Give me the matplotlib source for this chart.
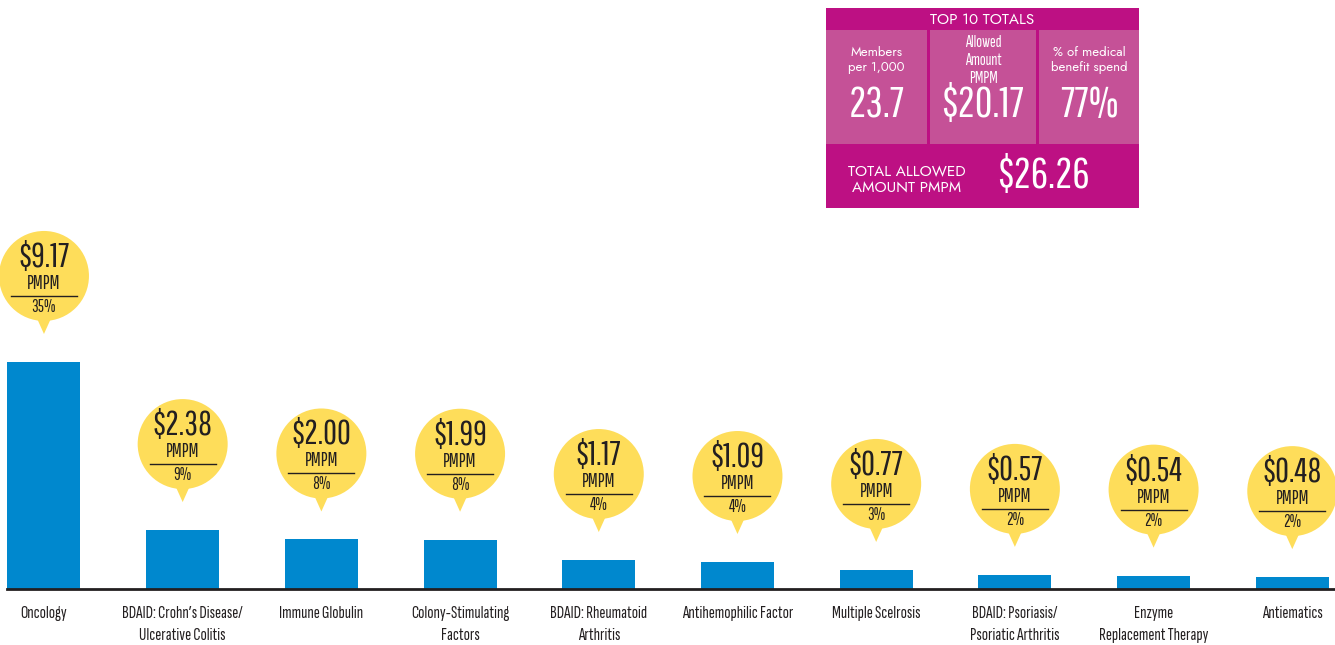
import matplotlib
matplotlib.use("Agg")
import matplotlib.pyplot as plt
from matplotlib.patches import Circle, Polygon, Rectangle
from matplotlib.transforms import ScaledTranslation

# ---------------- data ----------------
categories = ["Oncology", "BDAID: Crohn\u2019s Disease/\nUlcerative Colitis", "Immune Globulin",
              "Colony-Stimulating\nFactors", "BDAID: Rheumatoid\nArthritis", "Antihemophilic Factor",
              "Multiple Scelrosis", "BDAID: Psoriasis/\nPsoriatic Arthritis", "Enzyme\nReplacement Therapy",
              "Antiematics"]
pmpm = [9.17, 2.38, 2.00, 1.99, 1.17, 1.09, 0.77, 0.57, 0.54, 0.48]
share_pct = [35, 9, 8, 8, 4, 4, 3, 2, 2, 2]

box_title = "TOP 10 TOTALS"
box_labels = ["Members\nper 1,000", "Allowed\nAmount\nPMPM", "% of medical\nbenefit spend"]
box_values = ["23.7", "$20.17", "77%"]
total_label = "TOTAL ALLOWED\nAMOUNT PMPM"
total_value = "$26.26"

# ---------------- style ----------------
BLUE = "#0088CE"
YELLOW = "#FEDD5A"
DARK = "#231F20"
MAGENTA = "#BD1083"
PINK = "#C55197"
COND = ["Sofia Sans Extra Condensed", "DejaVu Sans"]
NUM = ["Pathway Gothic One", "Sofia Sans Extra Condensed", "DejaVu Sans"]
GEO = ["Jost", "DejaVu Sans"]

W, H = 1335, 645
fig = plt.figure(figsize=(W / 100, H / 100), dpi=100)

ax = fig.add_axes([0, 56 / H, 1, 589 / H])
n = len(categories)
x = list(range(n))
bar_w = 0.526
ax.bar(x, pmpm, width=bar_w, color=BLUE, zorder=2)
ax.set_xlim(-0.317, 9.308)
ax.set_ylim(0, 23.79)
for s in ["top", "left", "right"]:
    ax.spines[s].set_visible(False)
ax.spines["bottom"].set_color(DARK)
ax.spines["bottom"].set_linewidth(2.0)
ax.spines["bottom"].set_bounds(-bar_w / 2, 9.308)
ax.set_yticks([])
ax.set_xticks(x)
ax.set_xticklabels(categories, fontfamily=COND, fontsize=13.2, color=DARK, linespacing=1.62)
ax.tick_params(axis="x", length=0, pad=12)
ax.patch.set_alpha(0)

# ---------------- bubbles ----------------
R = 0.45      # inches
CY = 0.86     # circle centre above bar top, inches
for xi, v, p in zip(x, pmpm, share_pct):
    tr = fig.dpi_scale_trans + ScaledTranslation(xi, v, ax.transData)
    ax.add_patch(Polygon([(-0.09, CY - 0.38), (0.09, CY - 0.38), (0.0, 0.28)], closed=True,
                         facecolor=YELLOW, edgecolor="none", transform=tr, clip_on=False, zorder=3))
    ax.add_patch(Circle((0, CY), R, facecolor=YELLOW, edgecolor="none", transform=tr,
                        clip_on=False, zorder=3))
    ax.text(0, CY + 0.185, f"${v:.2f}", transform=tr, ha="center", va="center",
            fontfamily=NUM, fontsize=24.5, color=DARK, zorder=4)
    ax.text(0, CY - 0.075, "PMPM", transform=tr, ha="center", va="center",
            fontfamily=NUM, fontsize=13.5, color=DARK, zorder=4)
    ax.plot([-0.33, 0.33], [CY - 0.2, CY - 0.2], transform=tr, color=DARK, lw=1.0,
            clip_on=False, zorder=4)
    ax.text(0, CY - 0.31, f"{p}%", transform=tr, ha="center", va="center",
            fontfamily=NUM, fontsize=12, color=DARK, zorder=4)

# ---------------- summary box (pixel overlay) ----------------
ov = fig.add_axes([0, 0, 1, 1], zorder=5)
ov.set_xlim(0, W)
ov.set_ylim(H, 0)
ov.axis("off")
ov.patch.set_alpha(0)

bx0, bx1, by0, by1 = 826, 1139, 8, 208
ov.add_patch(Rectangle((bx0, by0), bx1 - bx0, by1 - by0, facecolor=MAGENTA, edgecolor="none"))
cells = [(826, 927), (930, 1036), (1039, 1139)]
for (c0, c1) in cells:
    ov.add_patch(Rectangle((c0, 30), c1 - c0, 114, facecolor=PINK, edgecolor="none"))
ov.text((bx0 + bx1) / 2, 19.5, box_title, ha="center", va="center", color="white",
        fontfamily=GEO, fontsize=11)

label_y = [60, 60.5, 60.5]
for (c0, c1), lab, val, ly in zip(cells, box_labels, box_values, label_y):
    cx = (c0 + c1) / 2
    if lab.count("\n") == 2:
        ov.text(cx, ly, lab, ha="center", va="center", color="white", fontfamily=COND,
                fontsize=12.5, linespacing=1.22)
    else:
        ov.text(cx, ly, lab, ha="center", va="center", color="white", fontfamily=GEO,
                fontsize=9.5, linespacing=1.2)
    ov.text(cx, 105, val, ha="center", va="center", color="white", fontfamily=NUM, fontsize=31)

ov.text(907, 180, total_label, ha="center", va="center", color="white", fontfamily=GEO,
        fontsize=11, linespacing=1.1)
ov.text(1043, 176, total_value, ha="center", va="center", color="white", fontfamily=NUM, fontsize=31)

fig.savefig("out.png", dpi=100)
